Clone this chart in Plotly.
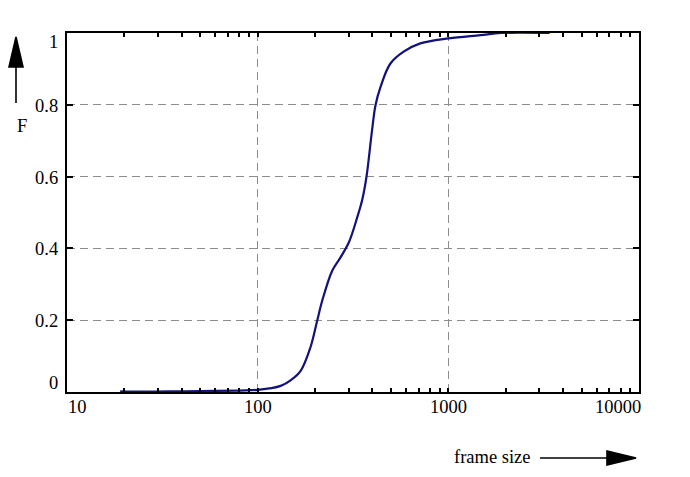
import math
import plotly.graph_objects as go

# CDF of frame sizes
frame_size = [19, 25, 40, 60, 80, 92, 100, 115, 132, 150, 168, 189, 205, 218, 246,
              272, 301, 333, 353, 372, 398, 415, 441, 497, 583, 713, 1004, 1472, 1900, 3400]
F = [0.002, 0.001, 0.002, 0.003, 0.004, 0.005, 0.006, 0.01, 0.017, 0.034, 0.059, 0.124,
     0.198, 0.254, 0.338, 0.375, 0.417, 0.487, 0.534, 0.599, 0.729, 0.799, 0.850, 0.915,
     0.948, 0.971, 0.985, 0.994, 1.0, 1.0]

x_ticks = [10, 100, 1000, 10000]
x_labels = ['10', '100', '1000', '10000']
y_ticks = [0, 0.2, 0.4, 0.6, 0.8, 1]
y_labels = ['0', '0.2', '0.4', '0.6', '0.8', '1']

font = dict(family='Liberation Serif, Times New Roman, serif', size=18.5, color='black')

# plot area in page pixels: x 67..639, y 33..392 (page has an 8px body margin)
W, H = 572.0, 359.0
def px(xp):
    return (xp - 67) / W
def py(yp):
    return (392 - yp) / H

fig = go.Figure(go.Scatter(x=frame_size, y=F, mode='lines',
                           line=dict(color='#12127c', width=2.2, shape='spline'),
                           showlegend=False))

annotations = []
# x tick labels (end labels pulled inward like the original)
for v, lab in zip(x_ticks, x_labels):
    anchor, shift = 'center', 0
    if v == x_ticks[0]:
        anchor, shift = 'left', -1
    elif v == x_ticks[-1]:
        anchor, shift = 'right', 4
    annotations.append(dict(x=math.log10(v), y=0, xref='x', yref='paper', text=lab,
                            showarrow=False, xanchor=anchor, yanchor='middle',
                            xshift=shift, yshift=-15, font=font))
# y tick labels
for v, lab in zip(y_ticks, y_labels):
    shift = -1
    if v == y_ticks[0]:
        shift = 9
    elif v == y_ticks[-1]:
        shift = -9
    annotations.append(dict(x=0, y=v, xref='paper', yref='y', text=lab, showarrow=False,
                            xanchor='right', yanchor='middle', xshift=-7, yshift=shift,
                            font=font))

annotations.append(dict(x=px(22), y=py(126), xref='paper', yref='paper', text='F',
                        showarrow=False, xanchor='center', yanchor='middle', font=font))
annotations.append(dict(x=px(492), y=py(457), xref='paper', yref='paper', text='frame size',
                        showarrow=False, xanchor='center', yanchor='middle', font=font))

# arrows drawn as pixel-sized shapes
arrow_style = dict(xref='paper', yref='paper', xsizemode='pixel', ysizemode='pixel',
                   line=dict(color='black', width=1.6))
shapes = [
    dict(type='path', xanchor=px(16), yanchor=py(37), path='M0,0 L-7,-30 L7,-30 Z',
         fillcolor='black', **arrow_style),
    dict(type='path', xanchor=px(16), yanchor=py(37), path='M0,-30 L0,-66',
         **arrow_style),
    dict(type='path', xanchor=px(636), yanchor=py(458), path='M0,0 L-29,7 L-29,-7 Z',
         fillcolor='black', **arrow_style),
    dict(type='path', xanchor=px(636), yanchor=py(458), path='M-29,0 L-96,0',
         **arrow_style),
]

fig.update_layout(
    width=682, height=469,
    margin=dict(l=59, r=51, t=25, b=85),
    plot_bgcolor='white', paper_bgcolor='white',
    annotations=annotations, shapes=shapes,
)
fig.update_xaxes(type='log', range=[1, 4], showticklabels=False,
                 tickvals=[100, 1000], ticks='inside', ticklen=4, tickwidth=2,
                 tickcolor='black',
                 minor=dict(ticks='inside', ticklen=4, tickwidth=1.5, tickcolor='black',
                            dtick='D1', showgrid=False),
                 showline=True, linecolor='black', linewidth=2, mirror='ticks',
                 showgrid=True, gridcolor='#8c8c8c', gridwidth=1, griddash='8px,5px',
                 zeroline=False)
fig.update_yaxes(range=[0, 1], showticklabels=False,
                 tickvals=[0.2, 0.4, 0.6, 0.8], ticks='inside', ticklen=6, tickwidth=2,
                 tickcolor='black',
                 showline=True, linecolor='black', linewidth=2, mirror='ticks',
                 showgrid=True, gridcolor='#8c8c8c', gridwidth=1, griddash='8px,5px',
                 zeroline=False)

fig.write_html("out.html")
